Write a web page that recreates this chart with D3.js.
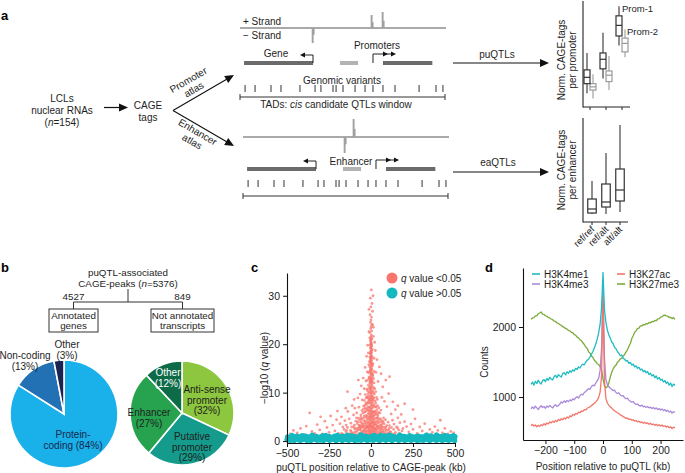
<!DOCTYPE html>
<html><head><meta charset="utf-8">
<script src="https://cdn.jsdelivr.net/npm/d3@7"></script>
<style>
body{margin:0;background:#fff}
svg{display:block}
</style>
</head><body>
<svg id="fig" width="685" height="473"></svg>
<script>
// ---------------- DATA ----------------
// panel a: genomic schematic (positions in genome units 0-100)
const variantPositions = [2.0, 6.9, 14.7, 19.6, 28.9, 36.3, 39.2, 45.1, 46.6, 50.0, 55.9, 60.8, 64.7, 69.6, 75.5, 87.3, 95.6, 99.0];
const geneSpan = [1.5, 35.3];
const lightSpan = [48.5, 57.4];
const promoterTSS = 64.7;
const downstreamSpan = [69.6, 93.8];
const promoterPeaks = [{pos: 35.3, strand: -1, h: 15}, {pos: 64.2, strand: 1, h: 13}, {pos: 69.6, strand: 1, h: 16}];
const enhancerPeaks = [{pos: 49.5, strand: -1, h: 16}, {pos: 53.9, strand: 1, h: 18}];
// panel a: box plots [lo, q1, median, q3, hi]
const genotypes = ["ref/ref", "ref/alt", "alt/alt"];
const prom1Stats = [[1.3, 2.2, 2.8, 3.5, 5.1], [2.7, 3.6, 4.5, 5.1, 7.0], [5.8, 6.7, 7.7, 8.6, 9.5]];
const prom2Stats = [[0.8, 1.6, 1.9, 2.2, 3.1], [1.6, 2.4, 3.0, 3.4, 4.8], [4.7, 5.2, 6.0, 6.5, 7.3]];
const enhStats = [[0.8, 0.9, 1.3, 2.3, 4.1], [0.8, 1.5, 2.0, 3.8, 6.9], [1.0, 2.1, 3.2, 5.3, 9.7]];
// panel b
const totalPeaks = 5376;
const branchCounts = [4527, 849];
const branchLabels = ["Annotated\ngenes", "Not annotated\ntranscripts"];
const annotatedCats = ["Protein-\ncoding (84%)", "Non-coding\n(13%)", "Other\n(3%)"];
const annotatedVals = [84, 13, 3];
const notAnnotatedCats = ["Anti-sense\npromoter\n(32%)", "Putative\npromoter\n(29%)", "Enhancer\n(27%)", "Other\n(12%)"];
const notAnnotatedVals = [32, 29, 27, 12];
// panel c: [position kb, -log10 q]
const sigPoints = [
[-175,1.6],[-160,2.4],[-150,1.9],[-140,2.8],[-130,1.5],[-122,2.2],[-115,2.9],[-105,1.7],[-98,2.5],[-90,1.4],[-84,2.0],[-76,2.7],[-70,1.6],[-63,2.3],[-57,1.9],[-50,2.9],[-45,1.5],[-40,2.4],[-34,1.8],[-28,2.7],[-22,1.5],[-17,2.1],[-12,2.8],[-8,1.7],[-3,2.4],[2,1.6],[6,2.9],[11,2.0],[16,1.5],[21,2.6],[27,1.8],[32,2.3],[38,1.5],[44,2.8],[50,2.0],[56,1.6],[62,2.5],[69,1.9],[76,2.8],[83,1.5],[91,2.2],[99,1.7],[108,2.6],[117,1.9],[126,1.5],[135,2.4],[146,1.8],[158,2.7],[170,1.6],[185,2.1],
[-165,1.4],[-145,2.2],[-118,1.6],[-88,2.6],[-66,2.9],[-48,2.1],[-30,1.4],[-15,2.5],[0,1.9],[14,2.4],[24,1.4],[35,2.9],[47,1.7],[58,2.3],[73,1.5],[88,2.9],[103,2.3],[122,2.8],[140,1.5],[165,2.3],
[-118,2.0],[-110,1.5],[-102,2.9],[-94,1.9],[-80,2.3],[-73,1.4],[-60,2.7],[-53,1.6],[-43,2.0],[-37,2.7],[-31,2.2],[-25,1.9],[-19,2.9],[-13,1.5],[-10,2.2],[-5,1.4],[-1,2.8],[4,2.1],[8,1.5],[13,2.8],[18,1.9],[23,2.3],[29,1.5],[34,2.0],[41,2.5],[48,1.4],[53,2.6],[60,1.8],[66,2.9],[72,2.2],[80,1.9],[86,2.5],[95,1.5],[112,1.9],[-70,2.4],[-56,1.4],[-26,2.9],[-6,1.9],[9,2.6],[26,2.6],
[-98,3.3],[-90,4.1],[-82,3.6],[-75,4.7],[-68,3.1],[-61,3.9],[-55,4.5],[-48,3.4],[-42,4.2],[-36,3.7],[-30,4.9],[-25,3.2],[-19,4.0],[-14,4.6],[-9,3.5],[-5,4.3],[-1,3.1],[3,4.8],[7,3.8],[12,4.4],[17,3.3],[22,4.0],[28,4.7],[33,3.5],[39,4.2],[45,3.1],[51,3.9],[57,4.6],[64,3.4],[71,4.1],[78,3.6],[86,4.4],[94,3.2],[102,3.9],[-58,3.2],[-22,4.5],[15,3.1],[36,4.8],[60,3.0],[-86,4.8],
[-78,4.0],[-71,3.3],[-65,4.4],[-52,3.7],[-45,4.8],[-39,3.2],[-33,4.1],[-27,3.6],[-21,3.0],[-16,3.8],[-11,4.9],[-7,3.3],[-3,4.0],[0,4.6],[2,3.5],[5,3.0],[9,4.1],[14,3.7],[19,4.6],[25,3.4],[30,4.0],[35,3.1],[42,3.8],[48,4.5],[54,3.3],[62,4.2],[68,3.8],[75,4.8],[-60,4.9],[-13,3.2],[-47,3.0],[10,4.9],[40,4.9],[-3,3.6],[20,3.6],
[-60,5.4],[-54,6.3],[-48,5.8],[-43,7.2],[-38,6.0],[-33,6.8],[-28,5.3],[-24,7.6],[-20,6.4],[-16,5.7],[-12,7.0],[-8,6.1],[-5,7.8],[-2,5.5],[1,6.7],[4,7.4],[7,5.9],[10,6.9],[14,5.2],[18,7.5],[22,6.2],[26,5.6],[31,7.1],[36,6.5],[41,5.4],[47,6.9],[53,5.8],[59,6.4],[-30,7.9],[28,7.9],
[-45,6.6],[-40,5.2],[-35,7.4],[-31,6.1],[-26,6.6],[-22,5.1],[-18,7.0],[-14,6.3],[-10,5.5],[-7,6.8],[-4,5.1],[-3,6.4],[0,7.2],[2,5.9],[3,7.9],[5,6.3],[8,5.4],[12,7.3],[16,6.0],[20,5.3],[24,7.0],[29,6.0],[33,5.5],[38,7.3],[44,5.9],[-1,5.2],[-15,7.9],[13,5.9],
[-40,8.4],[-34,9.6],[-29,8.9],[-24,10.7],[-20,9.2],[-16,11.5],[-13,8.6],[-10,10.1],[-7,9.4],[-5,11.2],[-3,8.2],[-1,9.9],[1,10.8],[3,8.8],[5,11.8],[7,9.3],[10,10.4],[13,8.5],[16,11.0],[20,9.7],[24,8.3],[28,10.2],[33,9.0],[38,8.6],[-18,8.1],[18,12.0],[-8,12.0],[9,8.0],
[-25,9.0],[-21,10.4],[-17,9.8],[-14,8.9],[-11,11.0],[-9,8.4],[-6,10.6],[-4,9.0],[-2,11.6],[0,8.5],[0,10.3],[2,9.5],[4,10.0],[6,8.6],[8,11.3],[11,9.0],[14,10.0],[17,8.9],[22,10.8],[-1,11.0],
[-20,12.6],[-15,14.1],[-11,13.2],[-8,15.4],[-6,12.8],[-4,14.6],[-2,13.5],[-1,15.9],[0,12.3],[1,14.0],[2,15.1],[3,13.0],[5,14.8],[7,12.5],[9,15.6],[12,13.7],[15,12.9],[19,14.4],[-13,15.8],[11,16.0],[-3,12.1],[4,16.0],
[-10,13.0],[-7,14.3],[-5,12.4],[-3,15.0],[-1,13.0],[0,14.6],[1,12.8],[2,13.8],[3,15.5],[5,12.2],[7,14.1],[10,13.4],
[-9,16.4],[-6,17.3],[-4,18.2],[-2,16.9],[-1,19.1],[0,17.8],[1,20.3],[2,18.7],[3,16.6],[4,19.6],[6,17.5],[8,18.9],[-3,20.8],[-5,19.9],[0,21.5],[2,21.9],[-1,16.2],[1,17.2],[-2,18.0],[3,20.0],[5,21.1],[-7,21.3],[0,19.4],[-1,20.6],[1,18.4],
[-4,16.5],[-2,17.5],[-1,18.6],[0,16.7],[1,19.8],[2,17.1],[3,18.2],[-3,19.3],[0,20.1],[1,21.0],
[2,31.2],[-4,29.5],[6,28.4],[-1,27.7],[9,26.8],[-6,26.1],[3,25.6],[0,25.0],[-3,24.5],[5,24.1],[1,23.6],[-2,23.2],[4,22.7],[-8,22.4],[12,30.0],[-12,27.2],[14,23.5],
[-480,1.5],[-462,2.2],[-440,1.7],[-420,2.6],[-400,1.4],[-385,3.1],[-365,5.8],[-352,2.0],[-335,1.6],[-320,3.4],[-305,2.3],[-290,1.5],[-275,4.1],[-262,2.8],[-250,1.8],[-240,5.2],[-228,3.3],[-215,2.1],[-205,4.4],[-195,1.6],[-185,3.6],[-176,5.0],[-168,2.9],[-156,4.2],[-148,3.3],[-138,6.1],[-130,4.6],[-120,3.7],[-112,7.3],[-104,5.4],[-96,6.8],[-85,5.8],[-78,8.9],[-72,7.0],[-65,9.7],[-58,11.4],[-52,8.5],[-46,13.0],[-40,10.8],[-35,15.2],[-30,12.4],[-26,17.5],[-22,14.3],[-20,19.8],[-16,18.2],[-12,22.6],[-75,12.6],[-100,8.6],[-150,6.8],[-200,6.2],[-300,5.0],[-140,10.2],
[110,3.2],[120,5.6],[128,4.3],[137,3.5],[145,6.5],[152,2.9],[160,4.8],[172,3.8],[180,5.5],[190,2.6],[200,4.0],[212,3.0],[225,1.9],[238,3.5],[250,2.4],[262,4.6],[275,1.6],[290,2.9],[305,2.1],[320,3.6],[335,1.5],[350,2.4],[365,1.8],[380,3.0],[398,2.2],[413,4.3],[425,1.7],[440,2.6],[458,1.5],[475,2.0],[492,1.7],[80,8.2],[95,7.1],[105,9.8],[70,11.2],[88,12.6],[60,13.9],[50,15.3],[42,12.3],[36,16.8],[30,14.2],[26,18.7],[22,20.4],[18,17.1],[14,21.6],[10,24.0],[65,9.0],[130,8.1],[160,7.3],[110,13.3],[200,7.7],[250,6.5]
];
const nsPoints = [
[-500,0.3],[-488,0.7],[-476,0.2],[-463,0.9],[-451,0.4],[-438,1.0],[-426,0.25],[-414,0.75],[-401,0.35],[-389,1.05],[-376,0.2],[-364,0.8],[-351,0.45],[-339,0.95],[-327,0.3],[-314,0.7],[-302,0.2],[-289,1.1],[-277,0.4],[-265,0.85],[-252,0.25],[-240,0.65],[-227,0.35],[-215,1.0],[-202,0.2],[-190,0.8],[-178,0.4],[-165,0.95],[-153,0.3],[-140,0.7],[-128,0.25],[-115,1.1],[-103,0.35],[-91,0.8],[-78,0.2],[-66,0.9],[-53,0.4],[-41,1.05],[-29,0.3],[-16,0.75],[-4,0.25],[8,1.0],[21,0.4],[33,0.85],[46,0.2],[58,0.7],[70,0.35],[83,1.1],[95,0.3],[108,0.8],[120,0.25],[132,0.95],[145,0.4],[157,0.7],[170,0.2],[182,1.05],[195,0.35],[207,0.8],[219,0.3],[232,0.9],[244,0.25],[257,0.75],[269,0.4],[281,1.0],[294,0.2],[306,0.85],[319,0.35],[331,0.7],[343,0.25],[356,1.1],[368,0.4],[381,0.8],[393,0.2],[405,0.95],[418,0.35],[430,0.7],[442,0.3],[455,1.05],[467,0.25],[480,0.8],[492,0.4],[500,0.9],
[-494,0.6],[-482,0.15],[-470,0.5],[-457,0.1],[-445,0.65],[-432,0.55],[-420,0.1],[-408,0.5],[-395,0.6],[-383,0.15],[-370,0.55],[-358,0.1],[-345,0.7],[-333,0.5],[-320,0.15],[-308,0.6],[-296,0.5],[-283,0.1],[-271,0.6],[-258,0.55],[-246,0.15],[-234,0.5],[-221,0.6],[-209,0.1],[-196,0.55],[-184,0.6],[-171,0.1],[-159,0.65],[-147,0.5],[-134,0.15],[-122,0.6],[-109,0.55],[-97,0.1],[-84,0.5],[-72,0.6],[-59,0.15],[-47,0.55],[-35,0.6],[-22,0.1],[-10,0.5],[2,0.6],[14,0.15],[27,0.55],[39,0.6],[52,0.1],[64,0.5],[76,0.65],[89,0.15],[101,0.55],[114,0.6],[126,0.1],[139,0.5],[151,0.6],[163,0.15],[176,0.55],[188,0.65],[201,0.1],[213,0.5],[226,0.6],[238,0.15],[250,0.55],[263,0.6],[275,0.1],[288,0.5],[300,0.6],[312,0.15],[325,0.55],[337,0.65],[350,0.1],[362,0.5],[374,0.6],[387,0.15],[399,0.55],[411,0.6],[424,0.1],[436,0.5],[449,0.65],[461,0.15],[473,0.55],[486,0.6],[498,0.1],
[-497,0.85],[-485,0.4],[-473,0.95],[-460,0.45],[-448,0.9],[-435,0.3],[-423,0.8],[-411,0.4],[-398,0.95],[-386,0.45],[-373,0.85],[-361,0.35],[-348,0.9],[-336,0.4],[-324,0.95],[-311,0.45],[-299,0.85],[-286,0.35],[-274,0.9],[-262,0.4],[-249,0.95],[-237,0.45],[-224,0.85],[-212,0.35],[-199,0.9],[-187,0.4],[-175,0.95],[-162,0.45],[-150,0.85],[-137,0.35],[-125,0.9],[-112,0.4],[-100,0.95],[-88,0.45],[-75,0.85],[-63,0.35],[-50,0.9],[-38,0.4],[-26,0.95],[-13,0.45],[-1,0.85],[11,0.35],[24,0.9],[36,0.4],[49,0.95],[61,0.45],[73,0.85],[86,0.35],[98,0.9],[111,0.4],[123,0.95],[135,0.45],[148,0.85],[160,0.35],[173,0.9],[185,0.4],[198,0.95],[210,0.45],[222,0.85],[235,0.35],[247,0.9],[260,0.4],[272,0.95],[284,0.45],[297,0.85],[309,0.35],[322,0.9],[334,0.4],[346,0.95],[359,0.45],[371,0.85],[384,0.35],[396,0.9],[408,0.4],[421,0.95],[433,0.45],[446,0.85],[458,0.35],[470,0.9],[483,0.4],[495,0.95],
[-470,1.2],[-350,1.25],[-270,1.18],[-140,1.22],[-60,1.27],[20,1.2],[110,1.25],[230,1.15],[330,1.22],[440,1.2],[-410,1.15],[-200,1.2],[60,1.18],[170,1.24],[390,1.26],[490,1.15]
];
const cTicksX = [-500, -250, 0, 250, 500];
const cTicksY = [0, 10, 20, 30];
// panel d: counts at positions -250..250 kb step 5
const positionsKb = d3.range(-250, 251, 5);
const H3K4me1 = [1180,1215,1170,1225,1195,1240,1205,1185,1235,1250,1220,1265,1240,1280,1255,1245,1290,1310,1275,1320,1300,1285,1335,1350,1315,1360,1340,1375,1355,1390,1370,1410,1395,1430,1415,1450,1470,1460,1500,1525,1540,1575,1610,1650,1700,1760,1830,1920,2040,2280,2780,2250,2070,1960,1890,1845,1790,1765,1710,1690,1650,1625,1590,1600,1555,1540,1515,1520,1480,1495,1455,1470,1430,1445,1410,1425,1385,1400,1360,1380,1345,1365,1320,1340,1300,1320,1275,1300,1255,1280,1240,1255,1215,1235,1195,1215,1170,1200,1150,1185,1165];
const H3K4me3 = [830,860,835,870,845,820,855,875,850,865,840,870,855,880,860,845,875,890,865,880,900,930,915,945,925,950,935,960,945,975,960,990,1005,985,1020,1040,1030,1065,1080,1100,1120,1110,1150,1170,1160,1200,1230,1270,1380,1700,2650,1560,1250,1180,1150,1125,1110,1090,1100,1065,1050,1060,1030,1015,1020,990,975,985,955,940,925,935,905,895,900,880,870,885,860,870,850,865,845,855,835,850,830,845,820,835,815,830,805,820,795,810,785,800,770,790,780];
const H3K27ac = [590,610,585,600,575,595,580,605,590,620,600,630,615,645,630,655,640,665,650,680,665,690,675,700,685,715,700,730,720,750,740,765,755,785,775,800,795,820,815,840,850,860,880,895,910,930,955,995,1070,1300,2450,1240,980,915,885,860,845,820,805,790,775,765,745,735,720,710,695,700,680,685,670,675,655,665,645,655,635,645,625,640,620,630,610,625,605,615,595,610,590,605,585,600,580,590,570,585,560,575,550,570,560];
const H3K27me3 = [2110,2130,2135,2160,2160,2190,2200,2215,2185,2180,2160,2155,2135,2130,2115,2105,2085,2080,2060,2050,2035,2025,2005,1995,1980,1970,1950,1945,1925,1920,1890,1885,1855,1845,1815,1805,1775,1750,1715,1695,1645,1625,1585,1565,1525,1505,1475,1465,1435,1390,1260,1160,1130,1150,1200,1280,1350,1400,1435,1455,1495,1515,1545,1555,1585,1605,1645,1675,1725,1765,1835,1875,1925,1945,1980,1985,2015,2015,2035,2030,2050,2045,2065,2060,2080,2075,2095,2090,2115,2120,2140,2145,2165,2170,2160,2155,2135,2140,2120,2135,2110];
const dSeries = [
  {name: "H3K4me1", values: H3K4me1, color: "#1ebcc0"},
  {name: "H3K4me3", values: H3K4me3, color: "#a98ad8"},
  {name: "H3K27ac", values: H3K27ac, color: "#f2766c"},
  {name: "H3K27me3", values: H3K27me3, color: "#7aab3a"}
];
const dTicksX = [-200, -100, 0, 100, 200];
const dTicksY = [1000, 2000];

// ---------------- DRAWING ----------------
const FONT = "'Liberation Sans', Arial, Helvetica, sans-serif";
const svg = d3.select("#fig").attr("font-family", FONT);
svg.append("rect").attr("width", 685).attr("height", 473).attr("fill", "#fff");
const INK = "#1e1e1e";

function T(g, x, y, str, o = {}) {
  const t = g.append("text").attr("x", x).attr("y", y)
    .attr("font-size", o.size || 10).attr("text-anchor", o.anchor || "start")
    .attr("fill", o.fill || INK);
  if (o.bold) t.attr("font-weight", "bold");
  if (o.transform) t.attr("transform", o.transform);
  str.split("*").forEach((p, i) => { if (p) t.append("tspan").text(p).attr("font-style", i % 2 ? "italic" : null); });
  return t;
}
function head(g, x, y, ang, L = 9, Wd = 8, fill = "#111") {
  const dx = Math.cos(ang), dy = Math.sin(ang);
  const bx = x - dx * L, by = y - dy * L, px = -dy * Wd / 2, py = dx * Wd / 2;
  g.append("path").attr("d", `M${x},${y}L${bx + px},${by + py}L${bx - px},${by - py}Z`).attr("fill", fill);
}
function line(g, x1, y1, x2, y2, stroke = "#222", w = 1) {
  return g.append("line").attr("x1", x1).attr("y1", y1).attr("x2", x2).attr("y2", y2).attr("stroke", stroke).attr("stroke-width", w);
}

// panel letters
T(svg, 1, 20, "a", {size: 13, bold: true, fill: "#000"});
T(svg, 1, 272, "b", {size: 13, bold: true, fill: "#000"});
T(svg, 251, 272, "c", {size: 13, bold: true, fill: "#000"});
T(svg, 485, 272, "d", {size: 13, bold: true, fill: "#000"});

// ===== Panel a =====
const A = svg.append("g");
T(A, 62, 102, "LCLs", {anchor: "middle"});
T(A, 62, 114, "nuclear RNAs", {anchor: "middle"});
T(A, 62, 126, "(*n*=154)", {anchor: "middle"});
line(A, 104, 107.5, 120, 107.5, "#111", 1.2);
head(A, 128, 107.5, 0);
T(A, 148, 109, "CAGE", {anchor: "middle"});
T(A, 148, 121, "tags", {anchor: "middle"});
const apex = [173, 110.5], tipUp = [234, 75], tipLo = [234, 146];
const angUp = Math.atan2(tipUp[1] - apex[1], tipUp[0] - apex[0]);
const angLo = Math.atan2(tipLo[1] - apex[1], tipLo[0] - apex[0]);
line(A, apex[0], apex[1], tipUp[0] - 7 * Math.cos(angUp), tipUp[1] - 7 * Math.sin(angUp), "#111", 1.1);
line(A, apex[0], apex[1], tipLo[0] - 7 * Math.cos(angLo), tipLo[1] - 7 * Math.sin(angLo), "#111", 1.1);
head(A, tipUp[0], tipUp[1], angUp);
head(A, tipLo[0], tipLo[1], angLo);
const degUp = angUp * 180 / Math.PI, degLo = angLo * 180 / Math.PI;
T(A, 0, 0, "Promoter", {anchor: "middle", transform: `translate(190,83) rotate(${degUp})`});
T(A, 0, 11, "atlas", {anchor: "middle", transform: `translate(190,83) rotate(${degUp})`});
T(A, 0, 0, "Enhancer", {anchor: "middle", transform: `translate(196,135) rotate(${degLo})`});
T(A, 0, 11, "atlas", {anchor: "middle", transform: `translate(196,135) rotate(${degLo})`});

function track(g, x0, x1, strandY, geneY, varY, tadY, peaks) {
  const gx = d3.scaleLinear([0, 100], [x0, x1]);
  line(g, gx(0) - 1, strandY, gx(100) + 1, strandY, "#555", 1);
  peaks.forEach(p => {
    const x = gx(p.pos), s = -p.strand, h = p.h;
    g.append("path").attr("fill", "#a0a0a0")
      .attr("d", `M${x - 1.3},${strandY}L${x - 1.3},${strandY + s * h}L${x + 0.6},${strandY + s * h}L${x + 0.6},${strandY + s * h * 0.45}L${x + 1.6},${strandY + s * h * 0.45}L${x + 1.6},${strandY}Z`);
  });
  g.append("rect").attr("x", gx(geneSpan[0])).attr("y", geneY - 2).attr("width", gx(geneSpan[1]) - gx(geneSpan[0])).attr("height", 4).attr("fill", "#6b6b6b");
  g.append("rect").attr("x", gx(lightSpan[0])).attr("y", geneY - 2).attr("width", gx(lightSpan[1]) - gx(lightSpan[0])).attr("height", 4).attr("fill", "#b3b3b3");
  g.append("rect").attr("x", gx(downstreamSpan[0])).attr("y", geneY - 2).attr("width", gx(downstreamSpan[1]) - gx(downstreamSpan[0])).attr("height", 4).attr("fill", "#6b6b6b");
  const gt = gx(geneSpan[1]);
  g.append("path").attr("d", `M${gt},${geneY}V${geneY - 8}H${gt - 8}`).attr("fill", "none").attr("stroke", "#222").attr("stroke-width", 1);
  head(g, gt - 13, geneY - 8, Math.PI, 5, 5, "#111");
  const pt = gx(promoterTSS);
  g.append("path").attr("d", `M${pt},${geneY}V${geneY - 9}H${pt + 20}`).attr("fill", "none").attr("stroke", "#222").attr("stroke-width", 1);
  head(g, pt + 15, geneY - 9, 0, 5, 5, "#111");
  head(g, pt + 23, geneY - 9, 0, 5, 5, "#111");
  variantPositions.forEach(v => line(g, gx(v), varY[0], gx(v), varY[1], "#333", 1));
  line(g, gx(0) - 1, tadY, gx(100), tadY, "#333", 1);
  line(g, gx(0) - 1, tadY - 3, gx(0) - 1, tadY + 3, "#333", 1);
  line(g, gx(100), tadY - 3, gx(100), tadY + 3, "#333", 1);
  return gx;
}
track(A, 241, 445, 28, 63, [85, 92], 97, promoterPeaks);
track(A, 244, 448, 137, 169, [180, 187], 196, enhancerPeaks);
T(A, 243, 25, "+ Strand");
T(A, 243, 39, "\u2212 Strand");
T(A, 276, 57, "Gene", {anchor: "middle"});
T(A, 377, 49, "Promoters", {anchor: "middle"});
T(A, 342, 84, "Genomic variants", {anchor: "middle"});
T(A, 336, 108, "TADs: *cis* candidate QTLs window", {anchor: "middle"});
T(A, 351, 165, "Enhancer", {anchor: "middle"});
T(A, 497, 58, "puQTLs", {anchor: "middle"});
line(A, 453, 63, 541, 63, "#111", 1.1);
head(A, 549, 63, 0);
T(A, 498, 166, "eaQTLs", {anchor: "middle"});
line(A, 453, 172, 541, 172, "#111", 1.1);
head(A, 549, 172, 0);

function boxes(g, stats, xScale, yScale, offset, w, stroke) {
  stats.forEach((s, i) => {
    const cx = xScale(genotypes[i]) + offset;
    const [lo, q1, md, q3, hi] = s.map(yScale);
    line(g, cx, lo, cx, q1, stroke, 1.1);
    line(g, cx, q3, cx, hi, stroke, 1.1);
    g.append("rect").attr("x", cx - w / 2).attr("y", q3).attr("width", w).attr("height", q1 - q3)
      .attr("fill", "#fff").attr("stroke", stroke).attr("stroke-width", 1.2);
    line(g, cx - w / 2, md, cx + w / 2, md, stroke, 1.2);
  });
}
const yP = d3.scaleLinear([0, 10], [107, 1]);
const xP = d3.scalePoint(genotypes, [590, 622]);
line(A, 583, 1, 583, 107.5, "#222", 1.1);
line(A, 583, 107, 630, 107, "#222", 1.1);
genotypes.forEach(gn => line(A, xP(gn), 107, xP(gn), 110, "#222", 1));
boxes(A, prom2Stats, xP, yP, 3, 6, "#9a9a9a");
boxes(A, prom1Stats, xP, yP, -3, 6, "#333");
T(A, 622, 12, "Prom-1", {size: 9.5});
T(A, 627, 35, "Prom-2", {size: 9.5});
T(A, 0, 0, "Norm. CAGE-tags", {anchor: "middle", transform: "translate(565,60) rotate(-90)"});
T(A, 0, 0, "per promoter", {anchor: "middle", transform: "translate(576,60) rotate(-90)"});
const yE = d3.scaleLinear([0, 10.4], [222, 118]);
const xE = d3.scalePoint(genotypes, [592, 620]);
line(A, 583, 118, 583, 222.5, "#222", 1.1);
line(A, 583, 222, 628, 222, "#222", 1.1);
genotypes.forEach(gn => {
  line(A, xE(gn), 222, xE(gn), 225, "#222", 1);
  T(A, 0, 0, gn, {size: 9.5, anchor: "end", transform: `translate(${xE(gn) + 3},${230}) rotate(-45)`});
});
boxes(A, enhStats, xE, yE, 0, 8.5, "#333");
T(A, 0, 0, "Norm. CAGE-tags", {anchor: "middle", transform: "translate(565,170) rotate(-90)"});
T(A, 0, 0, "per enhancer", {anchor: "middle", transform: "translate(576,170) rotate(-90)"});

// ===== Panel b =====
const B = svg.append("g");
T(B, 128, 276, "puQTL-associated", {anchor: "middle", size: 9.8});
T(B, 128, 287, `CAGE-peaks (*n*=${totalPeaks})`, {anchor: "middle", size: 9.8});
line(B, 128, 289, 128, 302, "#333", 1);
const boxLayout = [{cx: 73.5, x: 49, w: 49}, {cx: 182.5, x: 151, w: 63}];
line(B, boxLayout[0].cx, 302, boxLayout[1].cx, 302, "#333", 1);
branchCounts.forEach((c, i) => {
  const L = boxLayout[i];
  line(B, L.cx, 302, L.cx, 309, "#333", 1);
  T(B, L.cx, 299.5, String(c), {anchor: "middle", size: 9.8});
  B.append("rect").attr("x", L.x).attr("y", 309).attr("width", L.w).attr("height", 23).attr("fill", "#fff").attr("stroke", "#333").attr("stroke-width", 1);
  branchLabels[i].split("\n").forEach((s, k) => T(B, L.cx, 319 + k * 10, s, {anchor: "middle", size: 9.8}));
});
function pie(g, vals, cats, colors, cx, cy, r, labelOffsets, labelColors) {
  const arcs = d3.pie().sort(null).value(d => d)(vals);
  const arc = d3.arc().innerRadius(0).outerRadius(r);
  const gg = g.append("g").attr("transform", `translate(${cx},${cy})`);
  gg.selectAll("path").data(arcs).join("path").attr("d", arc)
    .attr("fill", (d, i) => colors[i]).attr("stroke", "#fff").attr("stroke-width", 1.6);
  arcs.forEach((a, i) => {
    const lines = cats[i].split("\n");
    const [dx, dy] = labelOffsets[i];
    const lh = 10.8, y0 = dy - (lines.length - 1) * lh / 2 + 3.6;
    lines.forEach((s, k) => T(gg, dx, y0 + k * lh, s, {anchor: "middle", size: 10, fill: labelColors[i]}));
  });
}
pie(B, annotatedVals, annotatedCats, ["#1ab0ea", "#2271b5", "#1b2353"], 64, 414, 54,
  [[9, 26], [-39, -53], [3, -64]], ["#16284d", INK, INK]);
pie(B, notAnnotatedVals, notAnnotatedCats, ["#8dc63f", "#149b8c", "#27a350", "#0d6b48"], 182, 413, 52,
  [[25, -13], [10, 34], [-33, 5], [-14, -35]], [INK, INK, INK, "#ffffff"]);

// ===== Panel c =====
const C = svg.append("g");
const xC = d3.scaleLinear([-500, 500], [287, 455]);
const yC = d3.scaleLinear([-0.4, 34.7], [443, 273]);
C.append("g").selectAll("circle").data(sigPoints).join("circle")
  .attr("cx", d => xC(d[0])).attr("cy", d => yC(d[1])).attr("r", 1.4)
  .attr("fill", "#f8766d").attr("fill-opacity", 0.75);
C.append("g").selectAll("circle").data(nsPoints).join("circle")
  .attr("cx", d => xC(d[0])).attr("cy", d => yC(d[1])).attr("r", 2.6)
  .attr("fill", "#14b9bf");
function styleAxis(ax) {
  ax.selectAll("path").attr("stroke", "#111").attr("stroke-width", 1.1);
  ax.selectAll("line").attr("stroke", "#111");
  ax.selectAll("text").attr("font-size", 10.5).attr("fill", INK).attr("font-family", FONT);
}
styleAxis(C.append("g").attr("transform", "translate(0,443)")
  .call(d3.axisBottom(xC).tickValues(cTicksX).tickSize(4).tickSizeOuter(0).tickPadding(3)));
styleAxis(C.append("g").attr("transform", "translate(287,0)")
  .call(d3.axisLeft(yC).tickValues(cTicksY).tickSize(4).tickSizeOuter(0).tickPadding(3)));
T(C, 371, 471, "puQTL position relative to CAGE-peak (kb)", {anchor: "middle"});
T(C, 0, 0, "\u2212log10 (*q* value)", {anchor: "middle", transform: "translate(268,368) rotate(-90)"});
C.append("circle").attr("cx", 392).attr("cy", 278).attr("r", 5.5).attr("fill", "#f8766d");
C.append("circle").attr("cx", 392).attr("cy", 293).attr("r", 5.5).attr("fill", "#14b9bf");
T(C, 401, 281.5, "*q* value <0.05");
T(C, 401, 296.5, "*q* value >0.05");

// ===== Panel d =====
const D = svg.append("g");
const xD = d3.scaleLinear([-278, 278], [523, 683]);
const yD = d3.scaleLinear([386, 2843], [440, 268]);
const lineGen = d3.line().x((d, i) => xD(positionsKb[i])).y(d => yD(d));
[3, 1, 2, 0].forEach(k => {
  D.append("path").attr("d", lineGen(dSeries[k].values)).attr("fill", "none")
    .attr("stroke", dSeries[k].color).attr("stroke-width", 1.3).attr("stroke-linejoin", "round");
});
styleAxis(D.append("g").attr("transform", "translate(0,440)")
  .call(d3.axisBottom(xD).tickValues(dTicksX).tickSize(4).tickSizeOuter(0).tickPadding(3)));
styleAxis(D.append("g").attr("transform", "translate(523,0)")
  .call(d3.axisLeft(yD).tickValues(dTicksY).tickFormat(d3.format("d")).tickSize(4).tickSizeOuter(0).tickPadding(3)));
T(D, 603, 470, "Position relative to puQTL (kb)", {anchor: "middle"});
T(D, 0, 0, "Counts", {anchor: "middle", transform: "translate(488,362) rotate(-90)"});
const legendOrder = [[0, 532, 274], [1, 532, 284], [2, 617, 274], [3, 617, 284]];
legendOrder.forEach(([k, x, y]) => {
  line(D, x, y, x + 8, y, dSeries[k].color, 1.6);
  T(D, x + 12, y + 3.5, dSeries[k].name);
});
</script>
</body></html>
